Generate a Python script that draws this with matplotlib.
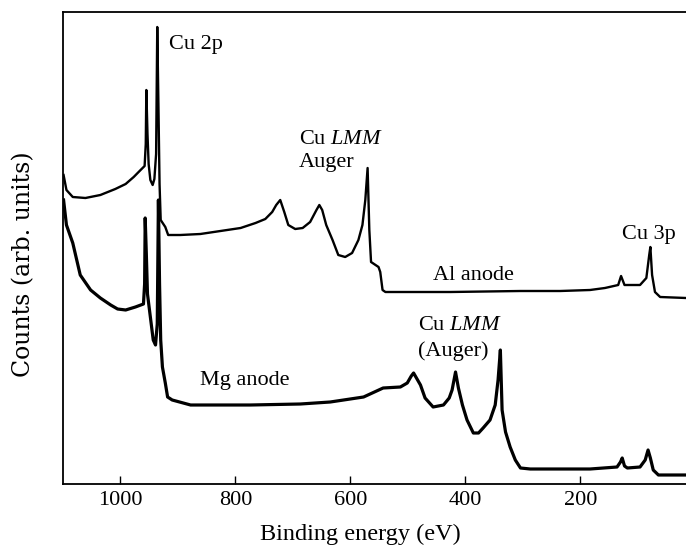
import numpy as np
import matplotlib.pyplot as plt

# Cu XPS survey spectra, heights (arb. units)
al_energy = [1099, 1094, 1083, 1061, 1035, 1009, 991, 977, 965, 958, 956, 955, 953, 951,
             948, 944, 941, 938, 936, 934, 932, 930, 922, 917, 896, 861, 826, 791, 765,
             748, 736, 729, 722, 715, 708, 696, 683, 670, 659, 654, 649, 642, 631, 621,
             609, 597, 586, 579, 574, 570, 567, 564, 551, 548, 544, 539, 426, 304, 235,
             183, 157, 134, 129, 123, 96, 85, 80, 78, 75, 70, 61, 16]
al_counts = [309, 294, 287, 286, 289, 295, 300, 307, 314, 318, 340, 394, 350, 320,
             304, 299, 305, 330, 457, 380, 300, 264, 257, 249, 249, 250, 253, 256, 261,
             265, 272, 279, 284, 272, 259, 255, 256, 262, 274, 279, 274, 259, 244, 229,
             227, 231, 244, 259, 284, 316, 254, 222, 217, 212, 194, 192, 192, 193, 193,
             194, 196, 199, 208, 199, 199, 206, 229, 237, 209, 192, 187, 186]

mg_energy = [1099, 1094, 1083, 1070, 1052, 1035, 1017, 1005, 991, 974, 960, 958, 957, 955,
             953, 948, 943, 939, 936, 934, 932, 930, 927, 922, 918, 910, 878, 774, 687,
             635, 577, 543, 513, 501, 494, 490, 485, 478, 470, 456, 438, 428, 423, 417,
             412, 405, 397, 386, 377, 369, 357, 348, 343, 339, 336, 330, 322, 313, 304,
             287, 183, 136, 130, 127, 123, 118, 96, 87, 82, 78, 73, 64, 16]
mg_counts = [284, 259, 241, 209, 194, 186, 179, 175, 174, 177, 180, 200, 266, 230,
             190, 167, 144, 139, 160, 284, 200, 144, 117, 101, 87, 84, 79, 79, 80,
             82, 87, 96, 97, 101, 108, 111, 106, 99, 86, 77, 79, 86, 94, 112,
             96, 79, 64, 51, 51, 56, 64, 79, 104, 134, 74, 52, 37, 24, 16,
             15, 15, 17, 22, 26, 18, 16, 17, 24, 34, 26, 14, 9, 9]

xticks = [1000, 800, 600, 400, 200]

plt.rcParams["font.family"] = "Liberation Serif"
plt.rcParams["font.size"] = 16
plt.rcParams["mathtext.fontset"] = "custom"
plt.rcParams["mathtext.rm"] = "Liberation Serif"
plt.rcParams["mathtext.it"] = "Liberation Serif:italic"

fig = plt.figure(figsize=(6.86, 5.45), dpi=100)
ax = fig.add_axes([63 / 686, 61 / 545, 623 / 686, 472 / 545])

ax.plot(al_energy, al_counts, color="black", lw=1.7)
ax.plot(mg_energy, mg_counts, color="black", lw=2.3)

ax.set_xlim(1100, 16)
ax.set_ylim(0, 472)
ax.set_xticks(xticks)
ax.set_yticks([])
ax.tick_params(axis="x", direction="in", length=6, width=1, pad=5)
ax.spines["right"].set_visible(False)
for s in ["left", "bottom", "top"]:
    ax.spines[s].set_linewidth(1.3)

ax.set_xlabel("Binding energy (eV)", fontsize=17.5)
ax.xaxis.set_label_coords(0.477, -0.085)
ax.set_ylabel("Counts (arb. units)", family="DejaVu Serif", fontsize=17)
ax.yaxis.set_label_coords(-0.045, 0.466)

# peak annotations
ax.text(916, 440, "Cu 2p", ha="left", va="center")
ax.text(690, 344, r"Cu $\mathit{LMM}$", ha="left", va="center")
ax.text(690, 322, "Auger", ha="left", va="center")
ax.text(386, 208, "Al anode", ha="center", va="center")
ax.text(127, 249, "Cu 3p", ha="left", va="center")
ax.text(783, 104, "Mg anode", ha="center", va="center")
ax.text(482, 158, r"Cu $\mathit{LMM}$", ha="left", va="center")
ax.text(482, 133, "(Auger)", ha="left", va="center")

fig.savefig("out.png", dpi=100)
